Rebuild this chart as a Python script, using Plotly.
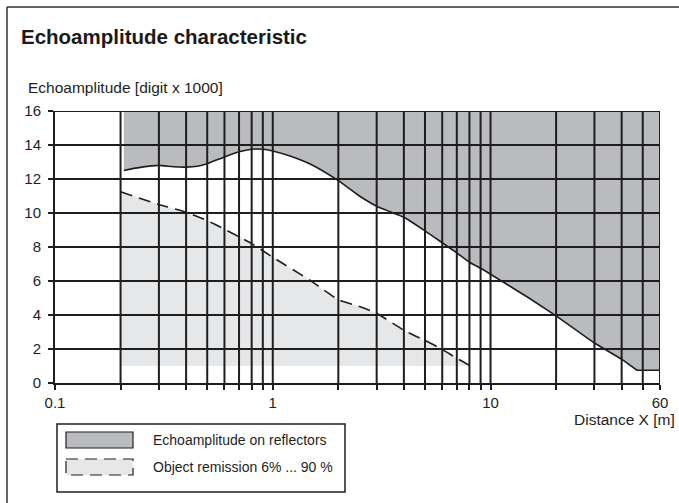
import numpy as np
import plotly.graph_objects as go

# ---------------- data ----------------
x_tick_vals = [0.1, 0.2, 0.3, 0.4, 0.5, 0.6, 0.7, 0.8, 0.9,
               1, 2, 3, 4, 5, 6, 7, 8, 9,
               10, 20, 30, 40, 50, 60]
x_tick_text = ["0.1", "", "", "", "", "", "", "", "",
               "1", "", "", "", "", "", "", "", "",
               "10", "", "", "", "", "60"]
y_tick_vals = [0, 2, 4, 6, 8, 10, 12, 14, 16]

# Echoamplitude on reflectors (lower boundary of dark area)
reflector_x = [0.207, 0.25, 0.3, 0.35, 0.4, 0.45, 0.5, 0.6, 0.7, 0.8, 0.9, 1.0,
               1.2, 1.5, 2, 2.5, 3, 3.5, 4, 5, 6, 7, 8, 9, 10, 15, 20, 30, 40, 47, 60]
reflector_y = [12.5, 12.7, 12.8, 12.72, 12.7, 12.75, 12.9, 13.3, 13.6, 13.75, 13.75, 13.65,
               13.35, 12.85, 11.9, 11.0, 10.4, 10.05, 9.75, 8.95, 8.25, 7.65, 7.1, 6.75, 6.4,
               5.0, 3.95, 2.35, 1.4, 0.75, 0.75]
smooth_until = 10   # the curve is smooth up to here, straight segments beyond

# Object remission 6% ... 90 % (dashed upper boundary of light area)
remission_x = [0.2, 0.3, 0.4, 0.5, 0.6, 0.7, 0.8, 1.0, 1.5, 2, 2.5, 3, 4, 5, 6, 7, 8.1]
remission_y = [11.25, 10.5, 10.05, 9.55, 9.05, 8.6, 8.2, 7.4, 6.0, 4.9, 4.5, 4.1, 3.1,
               2.5, 1.98, 1.45, 1.0]
remission_floor = 1.0

y_top = 16
x_min, x_max = 0.1, 60

legend_labels = ["Echoamplitude on reflectors", "Object remission 6% ... 90 %"]
title_text = "Echoamplitude characteristic"
y_title = "Echoamplitude [digit x 1000]"
x_title = "Distance X [m]"

# ---------------- layout geometry ----------------
W, H = 679, 503
L, R, T, B = 55, 19, 111, 120
PW, PH = W - L - R, H - T - B


def px2x(px):
    return (px - L) / PW


def px2y(py):
    return (H - B - py) / PH


DARK = "#babbbf"
LIGHT = "#e6e7e9"
INK = "#1e1e1e"
FONT = "Liberation Sans, Arial, Helvetica, sans-serif"

fig = go.Figure()

# dark area above reflector curve
fig.add_trace(go.Scatter(
    x=reflector_x + [reflector_x[-1], reflector_x[0]],
    y=reflector_y + [y_top, y_top],
    fill="toself", fillcolor=DARK, mode="none", hoverinfo="skip",
    showlegend=False))

# light area below remission curve
fig.add_trace(go.Scatter(
    x=remission_x + [remission_x[-1], remission_x[0]],
    y=remission_y + [remission_floor, remission_floor],
    fill="toself", fillcolor=LIGHT, mode="none", hoverinfo="skip",
    showlegend=False))

# grid lines (drawn above fills)
gx, gy = [], []
for v in x_tick_vals[1:]:
    gx += [v, v, None]
    gy += [0, y_top, None]
for v in y_tick_vals[1:]:
    gx += [x_min, x_max, None]
    gy += [v, v, None]
fig.add_trace(go.Scatter(x=gx, y=gy, mode="lines",
                         line=dict(color=INK, width=2),
                         hoverinfo="skip", showlegend=False, cliponaxis=False))

# curves
k = reflector_x.index(smooth_until)
fig.add_trace(go.Scatter(x=reflector_x[:k + 1], y=reflector_y[:k + 1], mode="lines",
                         line=dict(color=INK, width=1.6, shape="spline", smoothing=0.6),
                         hoverinfo="skip", showlegend=False))
fig.add_trace(go.Scatter(x=reflector_x[k:], y=reflector_y[k:], mode="lines",
                         line=dict(color=INK, width=1.6),
                         hoverinfo="skip", showlegend=False))
fig.add_trace(go.Scatter(x=remission_x, y=remission_y, mode="lines",
                         line=dict(color=INK, width=1.6, dash="12px,7px",
                                   shape="spline", smoothing=0.5),
                         hoverinfo="skip", showlegend=False))

fig.update_xaxes(type="log", range=[np.log10(x_min), np.log10(x_max)],
                 tickmode="array", tickvals=x_tick_vals, ticktext=x_tick_text,
                 ticks="outside", ticklen=5, tickwidth=1.5, tickcolor=INK,
                 showline=True, linecolor=INK, linewidth=2,
                 showgrid=False, zeroline=False,
                 tickfont=dict(family=FONT, size=15, color=INK))
fig.update_yaxes(range=[0, y_top], tickmode="array", tickvals=y_tick_vals,
                 ticks="outside", ticklen=5, tickwidth=1.5, tickcolor=INK,
                 showline=True, linecolor=INK, linewidth=2,
                 showgrid=False, zeroline=False, ticklabelstandoff=4,
                 tickfont=dict(family=FONT, size=15, color=INK))

shapes = [
    # frame (top and left edges)
    dict(type="line", xref="paper", yref="paper", x0=px2x(7), x1=px2x(W + 5),
         y0=px2y(7), y1=px2y(7), line=dict(color="#333", width=1.5)),
    dict(type="line", xref="paper", yref="paper", x0=px2x(7), x1=px2x(7),
         y0=px2y(7), y1=px2y(H + 5), line=dict(color="#333", width=1.5)),
    # legend box
    dict(type="rect", xref="paper", yref="paper", x0=px2x(57), x1=px2x(345),
         y0=px2y(424), y1=px2y(492), line=dict(color=INK, width=1.5),
         fillcolor="white"),
    # legend symbol 1
    dict(type="rect", xref="paper", yref="paper", x0=px2x(66), x1=px2x(133),
         y0=px2y(432), y1=px2y(448), line=dict(color=INK, width=1.2),
         fillcolor=DARK),
    # legend symbol 2
    dict(type="rect", xref="paper", yref="paper", x0=px2x(66), x1=px2x(133),
         y0=px2y(459), y1=px2y(475), line=dict(color=INK, width=1.2, dash="12px,7px"),
         fillcolor=LIGHT),
]

annotations = [
    dict(text="<b>%s</b>" % title_text, xref="paper", yref="paper",
         x=px2x(19), y=px2y(36), xanchor="left", yanchor="middle", showarrow=False,
         font=dict(family=FONT, size=20.5, color="#1a1a1a")),
    dict(text=y_title, xref="paper", yref="paper",
         x=px2x(26), y=px2y(87), xanchor="left", yanchor="middle", showarrow=False,
         font=dict(family=FONT, size=15.5, color=INK)),
    dict(text=x_title, xref="paper", yref="paper",
         x=px2x(677), y=px2y(419), xanchor="right", yanchor="middle", showarrow=False,
         font=dict(family=FONT, size=15.5, color=INK)),
    dict(text=legend_labels[0], xref="paper", yref="paper",
         x=px2x(151), y=px2y(440), xanchor="left", yanchor="middle", showarrow=False,
         font=dict(family=FONT, size=14, color=INK)),
    dict(text=legend_labels[1], xref="paper", yref="paper",
         x=px2x(151), y=px2y(467), xanchor="left", yanchor="middle", showarrow=False,
         font=dict(family=FONT, size=14, color=INK)),
]

fig.update_layout(width=W, height=H, margin=dict(l=L, r=R, t=T, b=B),
                  paper_bgcolor="white", plot_bgcolor="white",
                  shapes=shapes, annotations=annotations, showlegend=False)

fig.write_html("out.html",
               config={"displayModeBar": False},
               post_script="document.body.style.margin='0';"
                           "document.body.style.overflow='hidden';")
